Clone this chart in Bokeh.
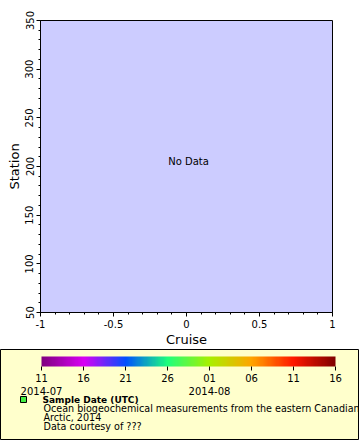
from bokeh.plotting import figure
from bokeh.layouts import column, row
from bokeh.models import (Range1d, ColorBar, LinearColorMapper, FixedTicker,
                          SingleIntervalTicker)
from bokeh.core.properties import value
from bokeh.embed import file_html
from bokeh.resources import INLINE

# ---- data ----
x_label = "Cruise"
y_label = "Station"
x_limits = [-1, 1]
y_limits = [50, 350]
no_data_text = "No Data"

cbar_days = ["11", "16", "21", "26", "01", "06", "11", "16"]
cbar_months = ["2014-07", "", "", "", "2014-08", "", "", ""]
cbar_anchor_colors = ["#800080", "#d800f4", "#0050ff", "#1eff7c",
                      "#a8f000", "#ffa500", "#ff1800", "#800000"]

legend_title = "Sample Date (UTC)"
legend_lines = ["Ocean biogeochemical measurements from the eastern Canadian",
                "Arctic, 2014",
                "Data courtesy of ???"]

FONT = "DejaVu Sans"


def hex2rgb(h):
    return tuple(int(h[i:i + 2], 16) for i in (1, 3, 5))


def build_palette(anchors, n=256):
    rgb = [hex2rgb(a) for a in anchors]
    out = []
    segs = len(rgb) - 1
    for k in range(n):
        t = k / (n - 1) * segs
        i = min(int(t), segs - 1)
        f = t - i
        c = [round(rgb[i][j] + (rgb[i + 1][j] - rgb[i][j]) * f) for j in range(3)]
        out.append("#%02x%02x%02x" % tuple(c))
    return out


# ---- main plot ----
p = figure(width=360, height=349,
           x_range=Range1d(*x_limits), y_range=Range1d(*y_limits),
           min_border_left=40, min_border_right=28,
           min_border_top=20, min_border_bottom=36,
           background_fill_color="#ccccff", border_fill_color="white",
           outline_line_color="black", outline_line_width=1,
           output_backend="svg", toolbar_location=None)
p.grid.visible = False

p.xaxis.ticker = SingleIntervalTicker(interval=0.5, num_minor_ticks=5)
p.yaxis.ticker = SingleIntervalTicker(interval=50, num_minor_ticks=5)
p.xaxis.axis_label = x_label
p.yaxis.axis_label = y_label
p.yaxis.major_label_orientation = "vertical"
for ax in (p.xaxis[0], p.yaxis[0]):
    ax.axis_line_color = "black"
    ax.major_tick_line_color = "black"
    ax.minor_tick_line_color = "black"
    ax.major_tick_out = 4
    ax.major_tick_in = 0
    ax.minor_tick_out = 2
    ax.minor_tick_in = 0
    ax.major_label_text_font = FONT
    ax.major_label_text_font_size = "10px"
    ax.major_label_text_color = "black"
    ax.major_label_standoff = 3
    ax.axis_label_text_font = FONT
    ax.axis_label_text_font_size = "13px"
    ax.axis_label_text_font_style = "normal"
    ax.axis_label_text_color = "black"
    ax.axis_label_standoff = 1
p.xaxis.major_label_overrides = {-1: "-1", -0.5: "-0.5", 0: "0", 0.5: "0.5", 1: "1"}

p.text(x=[sum(x_limits) / 2], y=[sum(y_limits) / 2], text=[no_data_text],
       text_align="center", text_baseline="middle", x_offset=2, y_offset=-5,
       text_font=value(FONT), text_font_size="10px", text_color="black")

# ---- legend panel ----
lg = figure(width=360, height=91,
            x_range=Range1d(0, 358), y_range=Range1d(0, 90),
            x_axis_type=None, y_axis_type=None,
            min_border_left=0, min_border_right=2,
            min_border_top=0, min_border_bottom=1,
            background_fill_color="#ffffcc", border_fill_color="white",
            outline_line_color="black", outline_line_width=1,
            output_backend="svg", toolbar_location=None)
lg.grid.visible = False

n_ticks = len(cbar_days)
mapper = LinearColorMapper(palette=build_palette(cbar_anchor_colors),
                           low=0, high=n_ticks - 1)
overrides = {}
for i, (d, m) in enumerate(zip(cbar_days, cbar_months)):
    overrides[i] = d + ("\n" + m if m else "")
cb = ColorBar(color_mapper=mapper, orientation="horizontal",
              location=(41, 40), width=294, height=10,
              padding=0, margin=0,
              ticker=FixedTicker(ticks=list(range(n_ticks)), minor_ticks=[]),
              major_label_overrides=overrides,
              major_label_text_font=FONT, major_label_text_font_size="10px",
              major_label_text_color="black",
              major_tick_in=0, major_tick_out=4,
              major_tick_line_color="black", minor_tick_line_color=None,
              label_standoff=2,
              bar_line_color=None, border_line_color=None,
              background_fill_alpha=0)
lg.add_layout(cb, "center")

lg.scatter(x=[23], y=[40], marker="square", size=6,
           fill_color="#44ee44", line_color="black", line_width=1)
lg.text(x=[42], y=[40], text=[legend_title], text_baseline="middle",
        text_font=value(FONT), text_font_size="9px",
        text_font_style="bold", text_color="black")
lg.text(x=[43] * len(legend_lines),
        y=[31 - 9 * i for i in range(len(legend_lines))],
        text=legend_lines, text_baseline="middle",
        text_font=value(FONT), text_font_size="9.6px", text_color="black")

layout = column(row(p), row(lg), spacing=0)
open("out.html", "w").write(file_html(layout, INLINE))
